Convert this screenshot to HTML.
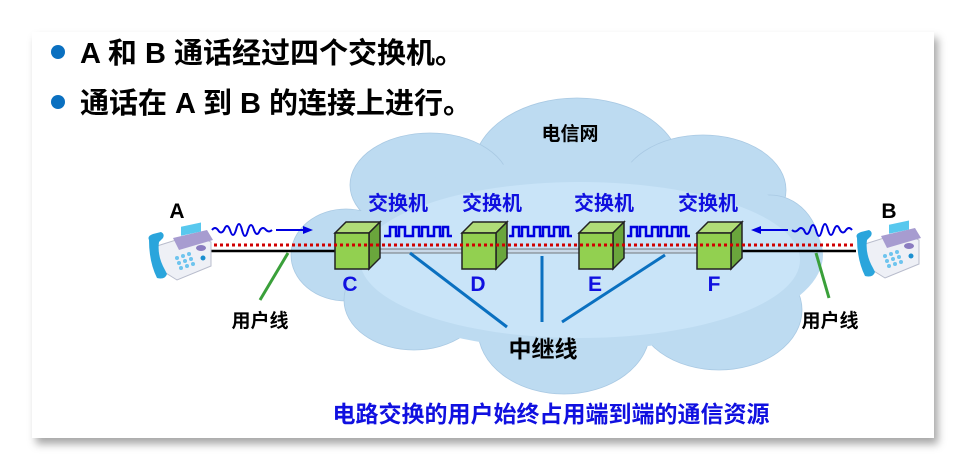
<!DOCTYPE html>
<html><head><meta charset="utf-8"><style>
html,body{margin:0;padding:0;background:#fff;}
body{width:965px;height:471px;overflow:hidden;position:relative;}
.slide{position:absolute;left:32px;top:32px;width:902px;height:406px;background:#fff;box-shadow:4px 6px 8px rgba(0,0,0,0.35);}
svg{position:absolute;left:0;top:0;}
text{font-family:"Liberation Sans","Noto Sans CJK SC",sans-serif;font-weight:bold;}
</style></head><body>
<div class="slide"></div>
<svg width="965" height="471" viewBox="0 0 965 471">
<defs>
<g id="cube">
<polygon points="0,0 11,-11 45,-11 34,0" fill="#b0dc78" stroke="#222" stroke-width="1.5"/>
<polygon points="34,0 45,-11 45,25 34,36" fill="#6aa63c" stroke="#222" stroke-width="1.5"/>
<rect x="0" y="0" width="34" height="36" fill="#92d050" stroke="#222" stroke-width="1.5"/>
</g>
<g id="phone">
<path d="M10,20 L48,8 L64,16 L64,40 L30,54 L14,44 Z" fill="#eef0f6" stroke="#b8bccc"/>
<path d="M26,12 L60,4 L66,14 L32,24 Z" fill="#a79cd0"/>
<rect x="34" y="8" width="20" height="9" fill="#58c8ee" transform="skewY(-12)"/>
<path d="M2,14 Q0,10 6,8 L14,6 Q18,8 16,12 L12,16 Q10,30 18,44 L20,48 Q18,54 10,52 Q2,36 2,14Z" fill="#2aa5dc"/>
<g fill="#6ec4ee"><circle cx="30" cy="32" r="2"/><circle cx="36" cy="30" r="2"/><circle cx="42" cy="28" r="2"/><circle cx="32" cy="37" r="2"/><circle cx="38" cy="35" r="2"/><circle cx="44" cy="33" r="2"/><circle cx="34" cy="42" r="2"/><circle cx="40" cy="40" r="2"/><circle cx="46" cy="38" r="2"/><circle cx="56" cy="32" r="2.5" fill="#1b8fd0"/></g>
<ellipse cx="54" cy="22" rx="5" ry="3" fill="#8a7cc0"/>
</g>
</defs>
<circle cx="58" cy="52" r="7" fill="#0a70c0"/>
<circle cx="58" cy="102" r="7" fill="#0a70c0"/>
<text x="80" y="63" font-size="29" fill="#000">A 和 B 通话经过四个交换机。</text>
<text x="80" y="113" font-size="29" fill="#000">通话在 A 到 B 的连接上进行。</text>
<!-- cloud -->
<g fill="#bddbf1" stroke="#a9c9e3" stroke-width="0.8">
<ellipse cx="577" cy="170" rx="104" ry="72"/>
<ellipse cx="430" cy="185" rx="80" ry="52"/>
<ellipse cx="703" cy="190" rx="83" ry="55"/>
<ellipse cx="346" cy="255" rx="55" ry="46"/>
<ellipse cx="770" cy="250" rx="50" ry="55"/>
<ellipse cx="414" cy="300" rx="70" ry="50"/>
<ellipse cx="564" cy="330" rx="86" ry="64"/>
<ellipse cx="719" cy="310" rx="83" ry="60"/>
</g>
<ellipse cx="578" cy="255" rx="245" ry="95" fill="#bddbf1"/>
<ellipse cx="580" cy="260" rx="220" ry="78" fill="#c9e4f8"/>
<text x="570" y="140" font-size="19" fill="#000" text-anchor="middle">电信网</text>
<!-- lines -->
<line x1="208" y1="251" x2="856" y2="251" stroke="#000" stroke-width="2.5"/>
<line x1="370" y1="251" x2="700" y2="251" stroke="#c8d8e8" stroke-width="3"/>
<line x1="370" y1="249" x2="700" y2="249" stroke="#555" stroke-width="0.8"/>
<line x1="370" y1="253" x2="700" y2="253" stroke="#555" stroke-width="0.8"/>
<g stroke="#0a70c0" stroke-width="3">
<line x1="410" y1="253" x2="507" y2="327"/>
<line x1="542" y1="256" x2="542" y2="322"/>
<line x1="665" y1="255" x2="562" y2="322"/>
</g>
<line x1="288" y1="253" x2="260" y2="300" stroke="#3aa03a" stroke-width="3"/>
<line x1="816" y1="253" x2="829" y2="298" stroke="#3aa03a" stroke-width="3"/>
<!-- square waves -->
<g fill="none" stroke="#0000e0" stroke-width="2.5">
<path d="M384,236 h6 v-9 h6 v9 h3 v-9 h6 v9 h8 v-9 h6 v9 h3 v-9 h6 v9 h6 v-9 h6 v9 h3 v-9 h5 v9 h4"/>
<path d="M509,236 h4 v-9 h6 v9 h3 v-9 h6 v9 h6 v-9 h6 v9 h3 v-9 h6 v9 h5 v-9 h6 v9 h3 v-9 h5 v9 h4"/>
<path d="M627,236 h4 v-9 h6 v9 h3 v-9 h6 v9 h6 v-9 h6 v9 h3 v-9 h6 v9 h5 v-9 h6 v9 h3 v-9 h5 v9 h4"/>
</g>
<use href="#cube" x="335" y="233"/>
<use href="#cube" x="462" y="233"/>
<use href="#cube" x="579" y="233"/>
<use href="#cube" x="697" y="233"/>
<line x1="208" y1="245" x2="856" y2="245" stroke="#d00000" stroke-width="3" stroke-dasharray="3,3"/>
<!-- wave signals -->
<path d="M212,230 q3,-4 6,0 q3,5 6,0 q3,-8 6,0 q3,10 6,0 q3,-12 6,0 q3,12 6,0 q3,-10 6,0 q3,8 6,0 q3,-4 6,0 q3,3 6,0" fill="none" stroke="#0000e0" stroke-width="2"/>
<line x1="276" y1="230" x2="305" y2="230" stroke="#0000e0" stroke-width="2"/>
<polygon points="313,230 303,226 303,234" fill="#0000e0"/>
<path d="M852,230 q-3,-4 -6,0 q-3,5 -6,0 q-3,-8 -6,0 q-3,10 -6,0 q-3,-12 -6,0 q-3,12 -6,0 q-3,-10 -6,0 q-3,8 -6,0 q-3,-4 -6,0 q-3,3 -6,0" fill="none" stroke="#0000e0" stroke-width="2"/>
<line x1="788" y1="230" x2="760" y2="230" stroke="#0000e0" stroke-width="2"/>
<polygon points="751,230 761,226 761,234" fill="#0000e0"/>
<use href="#phone" x="147" y="226"/>
<use href="#phone" x="855" y="224"/>
<text x="177" y="218" font-size="21" fill="#000" text-anchor="middle">A</text>
<text x="889" y="218" font-size="21" fill="#000" text-anchor="middle">B</text>
<g font-size="20" fill="#1010e0" text-anchor="middle">
<text x="398" y="210">交换机</text>
<text x="492" y="210">交换机</text>
<text x="604" y="210">交换机</text>
<text x="708" y="210">交换机</text>
</g>
<g font-size="21" fill="#1010e0" text-anchor="middle">
<text x="350" y="291">C</text>
<text x="478" y="291">D</text>
<text x="595" y="291">E</text>
<text x="714" y="291">F</text>
</g>
<g font-size="19" fill="#000" text-anchor="middle">
<text x="260" y="327">用户线</text>
<text x="830" y="327">用户线</text>
</g>
<text x="543" y="357" font-size="23" fill="#000" text-anchor="middle">中继线</text>
<text x="551" y="422" font-size="23" fill="#1010e0" text-anchor="middle">电路交换的用户始终占用端到端的通信资源</text>
</svg>
</body></html>
